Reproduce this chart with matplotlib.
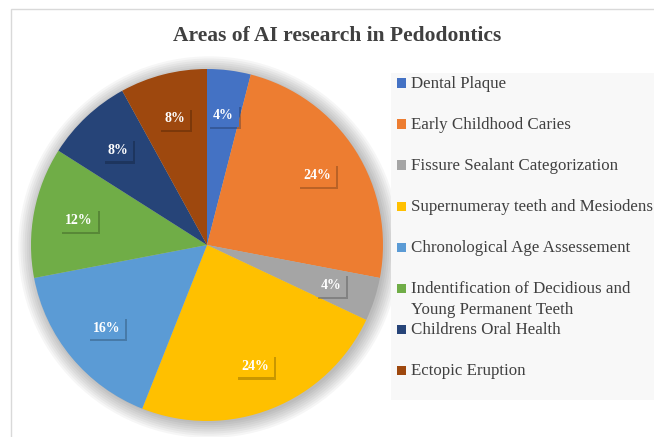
import matplotlib.pyplot as plt
import matplotlib.patheffects as pe
from matplotlib.patches import Rectangle, Circle

categories = ['Dental Plaque', 'Early Childhood Caries', 'Fissure Sealant Categorization',
              'Supernumeray teeth and Mesiodens', 'Chronological Age Assessement',
              'Indentification of Decidious and\nYoung Permanent Teeth',
              'Childrens Oral Health', 'Ectopic Eruption']
shares = [4, 24, 4, 24, 16, 12, 8, 8]
colors = ['#4472C4', '#ED7D31', '#A5A5A5', '#FFC000', '#5B9BD5', '#70AD47', '#264478', '#9E480E']

W, H = 654, 437
plt.rcParams['font.family'] = ['Liberation Serif']

fig = plt.figure(figsize=(W / 100, H / 100), dpi=100)

# chart border (only left/top visible)
fig.patches.append(Rectangle((11 / W, -0.1), 1.2, (H - 9) / H + 0.1, transform=fig.transFigure,
                             facecolor='none', edgecolor='#D9D9D9', lw=1, zorder=0))

fig.text(337 / W, 1 - 36 / H, 'Areas of AI research in Pedodontics', ha='center', va='center',
         fontsize=15.5, fontweight='bold', color='#404040')

# pie
cx, cy, r = 207, 245, 176
ax = fig.add_axes([(cx - r) / W, (H - cy - r) / H, 2 * r / W, 2 * r / H])

for k in range(8):
    ax.add_patch(Circle((0.012, -0.012), 1.0 + 0.012 * k, facecolor='black', alpha=0.035,
                        edgecolor='none', zorder=0, clip_on=False))

wedges, _, autotexts = ax.pie(shares, colors=colors, startangle=90, counterclock=False,
                              autopct='%1.0f%%', pctdistance=0.74, radius=1,
                              wedgeprops=dict(linewidth=0),
                              textprops=dict(color='white', fontweight='bold', fontsize=10))
ax.set_xlim(-1, 1)
ax.set_ylim(-1, 1)
ax.set_aspect('equal')
ax.axis('off')

for t, c in zip(autotexts, colors):
    t.set_bbox(dict(facecolor=c, edgecolor='none', boxstyle='square,pad=0.35'))
    t.get_bbox_patch().set_path_effects([pe.SimplePatchShadow(offset=(1.5, -1.5), alpha=0.3), pe.Normal()])
    t.set_zorder(5)

# legend
fig.patches.append(Rectangle((391 / W, 1 - 400 / H), 1, 327 / H, transform=fig.transFigure,
                             facecolor='#F8F8F8', edgecolor='none', zorder=1))
for i, (lab, c) in enumerate(zip(categories, colors)):
    y = 83 + 41 * i
    fig.patches.append(Rectangle((397 / W, 1 - (y + 4.5) / H), 9 / W, 9 / H, transform=fig.transFigure,
                                 facecolor=c, edgecolor='none', zorder=2))
    for j, line in enumerate(lab.split('\n')):
        fig.text(411 / W, 1 - (y + 5 + 20.5 * j) / H, line, ha='left', va='baseline', fontsize=12.2,
                 color='#404040', zorder=3)

fig.savefig('out.png', dpi=100)
